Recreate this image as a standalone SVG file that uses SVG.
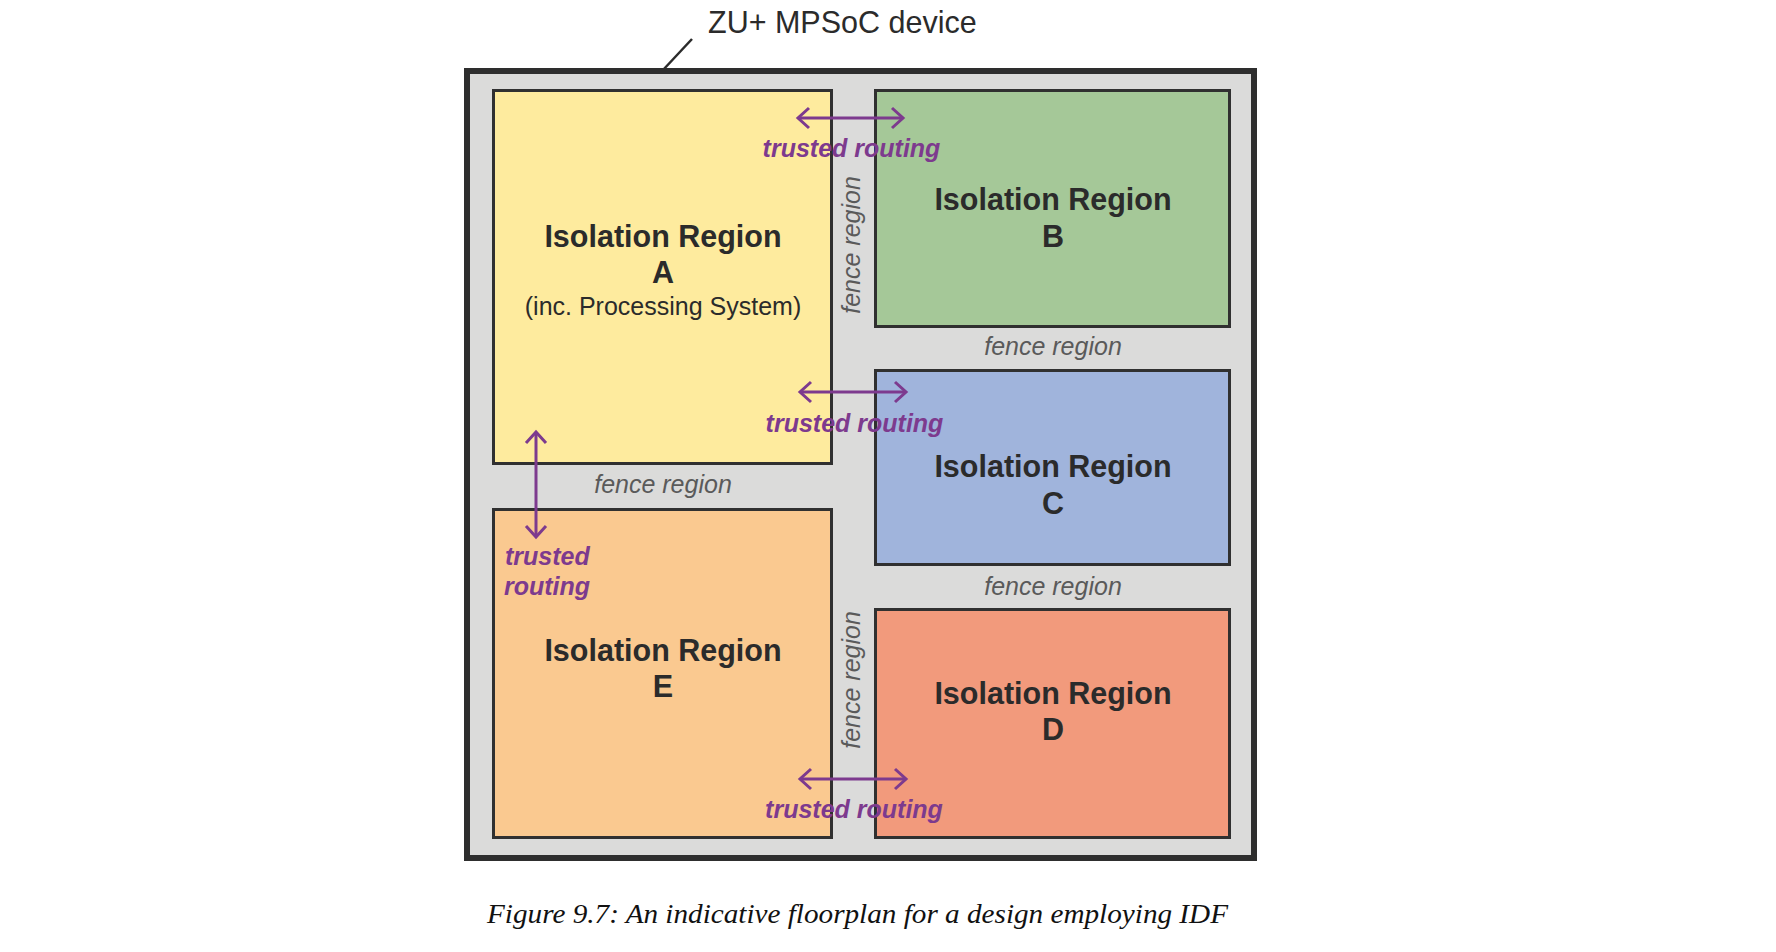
<svg xmlns="http://www.w3.org/2000/svg" width="1776" height="952" viewBox="0 0 1776 952">
<style>
.box{stroke:#303030;stroke-width:3}
.title{font-family:"Liberation Sans",Arial,sans-serif;font-weight:bold;font-size:30.5px;fill:#2b2b2b;text-anchor:middle}
.sub{font-family:"Liberation Sans",Arial,sans-serif;font-size:25px;fill:#2b2b2b;text-anchor:middle}
.fence{font-family:"Liberation Sans",Arial,sans-serif;font-style:italic;font-size:25px;fill:#5a5a5a;text-anchor:middle}
.tr{font-family:"Liberation Sans",Arial,sans-serif;font-style:italic;font-weight:bold;font-size:25px;fill:#7d3a8e}
.arr{stroke:#7d3a8e;stroke-width:3;fill:none;marker-start:url(#head);marker-end:url(#head)}
</style>
<defs>
<marker id="head" markerUnits="userSpaceOnUse" viewBox="-16 -14 20 28" refX="0" refY="0" markerWidth="20" markerHeight="28" orient="auto-start-reverse">
<path d="M-11,-10 L0,0 L-11,10" fill="none" stroke="#7d3a8e" stroke-width="3"/>
</marker>
</defs>
<rect width="1776" height="952" fill="#ffffff"/>
<g id="device">
<line x1="692" y1="39" x2="663" y2="70" stroke="#2b2b2b" stroke-width="2.5"/>
<text x="708" y="33" font-family="'Liberation Sans',Arial,sans-serif" font-size="30.5" fill="#2b2b2b">ZU+ MPSoC device</text>
<rect x="467" y="71" width="787" height="787" fill="#dbdbda" stroke="#2e2e2e" stroke-width="6"/>
</g>
<g id="fences">
<text class="fence" x="663" y="493">fence region</text>
<text class="fence" x="1053" y="355">fence region</text>
<text class="fence" x="1053" y="595">fence region</text>
<text class="fence" transform="translate(860 245) rotate(-90)">fence region</text>
<text class="fence" transform="translate(860 680) rotate(-90)">fence region</text>
</g>
<g id="regionA">
<rect class="box" x="493.5" y="90.5" width="338" height="373" fill="#feeb9e"/>
<text class="title" x="663" y="247">Isolation Region</text>
<text class="title" x="663" y="283">A</text>
<text class="sub" x="663" y="315">(inc. Processing System)</text>
</g>
<g id="regionB">
<rect class="box" x="875.5" y="90.5" width="354" height="236" fill="#a5c898"/>
<text class="title" x="1053" y="210">Isolation Region</text>
<text class="title" x="1053" y="247">B</text>
</g>
<g id="regionC">
<rect class="box" x="875.5" y="370.5" width="354" height="194" fill="#a0b4dc"/>
<text class="title" x="1053" y="477">Isolation Region</text>
<text class="title" x="1053" y="514">C</text>
</g>
<g id="regionD">
<rect class="box" x="875.5" y="609.5" width="354" height="228" fill="#f29a7c"/>
<text class="title" x="1053" y="704">Isolation Region</text>
<text class="title" x="1053" y="740">D</text>
</g>
<g id="regionE">
<rect class="box" x="493.5" y="509.5" width="338" height="328" fill="#fac990"/>
<text class="title" x="663" y="661">Isolation Region</text>
<text class="title" x="663" y="697">E</text>
</g>
<g id="connectors">
<line class="arr" x1="798" y1="118" x2="903" y2="118"/>
<line class="arr" x1="800" y1="392" x2="906" y2="392"/>
<line class="arr" x1="800" y1="779" x2="906" y2="779"/>
<line class="arr" x1="536" y1="432" x2="536" y2="537"/>
<text class="tr" x="851.5" y="157" text-anchor="middle">trusted routing</text>
<text class="tr" x="854.5" y="432" text-anchor="middle">trusted routing</text>
<text class="tr" x="854" y="818" text-anchor="middle">trusted routing</text>
<text class="tr" x="505" y="565">trusted</text>
<text class="tr" x="504" y="595">routing</text>
</g>
<text x="487" y="923" font-family="'Liberation Serif','Times New Roman',serif" font-style="italic" font-size="27" fill="#111" textLength="741" lengthAdjust="spacingAndGlyphs">Figure 9.7: An indicative floorplan for a design employing IDF</text>
</svg>
